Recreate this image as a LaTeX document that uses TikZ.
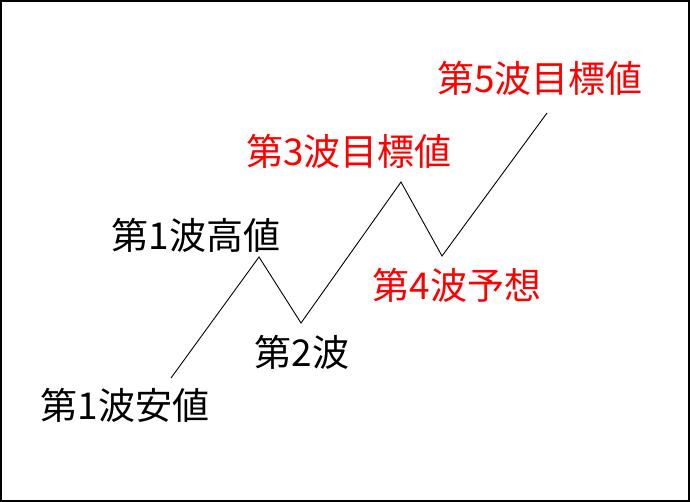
\documentclass[tikz,border=0pt]{standalone}
\usepackage{fontspec}
\newfontfamily\jp{Noto Sans CJK JP}
\begin{document}
\begin{tikzpicture}[x=1pt,y=-1pt,
  lbl/.style={font=\jp\fontsize{37}{37}\selectfont, inner sep=0pt, anchor=center},
  blk/.style={lbl, text=black},
  redl/.style={lbl, text=red},
  wave/.style={draw=black, line width=0.9pt, line join=miter}]
\useasboundingbox (0,0) rectangle (690,502);
\draw[line width=2pt] (1,1) rectangle (689,501);
\coordinate (p0) at (171,378);
\coordinate (p1) at (259,257);
\coordinate (p2) at (301,323);
\coordinate (p3) at (401,182);
\coordinate (p4) at (442,256);
\coordinate (p5) at (547,113);
\draw[wave] (p0) -- (p1) -- (p2) -- (p3) -- (p4) -- (p5);
\node[blk] (l0) at (125,405) {第1波安値};
\node[blk] (l1) at (196,235) {第1波高値};
\node[blk] (l2) at (302,352) {第2波};
\node[redl] (l3) at (349,151) {第3波目標値};
\node[redl] (l4) at (457,285) {第4波予想};
\node[redl] (l5) at (540,78) {第5波目標値};
\end{tikzpicture}
\end{document}
